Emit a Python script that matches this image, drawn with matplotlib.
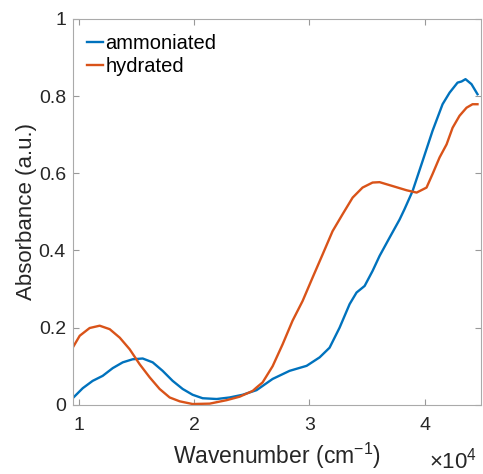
"""Absorbance spectra, ammoniated vs hydrated."""
import matplotlib.pyplot as plt

plt.rcParams['font.family'] = ['Liberation Sans', 'DejaVu Sans']
plt.rcParams['mathtext.fontset'] = 'custom'
plt.rcParams['mathtext.rm'] = 'Liberation Sans'
plt.rcParams['mathtext.it'] = 'Liberation Sans'

# wavenumber (cm^-1) and absorbance (a.u.)
wn_ammoniated = [9480, 10350, 11210, 12080, 12950, 13820, 14680, 15550,
                 16420, 17280, 18150, 19020, 19880, 20750, 21970, 23090,
                 24220, 25430, 26820, 28290, 29770, 30900, 31760, 32630,
                 33500, 34100, 34800, 35490, 36100, 36960, 37830, 38260,
                 38960, 39830, 40690, 41560, 42170, 42860, 43210, 43550,
                 44070, 44590]
abs_ammoniated = [0.017, 0.043, 0.062, 0.075, 0.095, 0.11, 0.118, 0.12,
                  0.11, 0.088, 0.062, 0.041, 0.026, 0.017, 0.015, 0.019,
                  0.026, 0.038, 0.067, 0.088, 0.101, 0.123, 0.148, 0.2,
                  0.261, 0.291, 0.308, 0.347, 0.386, 0.433, 0.48, 0.507,
                  0.554, 0.632, 0.71, 0.779, 0.809, 0.835, 0.838, 0.844,
                  0.831, 0.805]

wn_hydrated = [9480, 10090, 10950, 11820, 12690, 13560, 14420, 15290,
               16160, 17020, 17890, 18760, 19880, 21360, 22830, 23960,
               25090, 25430, 25950, 26820, 27690, 28550, 29420, 30290,
               31160, 32020, 32890, 33760, 34620, 35490, 36100, 37220,
               38440, 39310, 40170, 40690, 41300, 41910, 42430, 43030,
               43640, 44160, 44590]
abs_hydrated = [0.148, 0.179, 0.199, 0.205, 0.196, 0.174, 0.144, 0.105,
                0.071, 0.041, 0.019, 0.009, 0.002, 0.003, 0.012, 0.021,
                0.036, 0.045, 0.058, 0.1, 0.157, 0.218, 0.269, 0.33,
                0.39, 0.45, 0.494, 0.537, 0.563, 0.576, 0.577, 0.567,
                0.556, 0.55, 0.563, 0.598, 0.641, 0.675, 0.718, 0.749,
                0.77, 0.779, 0.779]

fig = plt.figure(figsize=(4.83, 4.74), dpi=100)
ax = fig.add_axes([0.151, 0.146, 0.845, 0.814])

ax.plot(wn_ammoniated, abs_ammoniated, color='#0072BD', lw=1.7,
        label='ammoniated')
ax.plot(wn_hydrated, abs_hydrated, color='#D95319', lw=1.7,
        label='hydrated')

ax.set_xlim(9500, 44900)
ax.set_ylim(0, 1)
ax.set_xticks([10000, 20000, 30000, 40000])
ax.set_xticklabels(['1', '2', '3', '4'])
ax.set_yticks([0, 0.2, 0.4, 0.6, 0.8, 1])
ax.set_yticklabels(['0', '0.2', '0.4', '0.6', '0.8', '1'])
ax.tick_params(direction='in', top=True, right=True, length=4, width=0.8,
               labelsize=14, colors='#999999', labelcolor='#262626')
ax.tick_params(axis='x', pad=9)
ax.tick_params(axis='y', pad=5)
for s in ax.spines.values():
    s.set_color('#aaaaaa')
    s.set_linewidth(0.8)

ax.set_xlabel('Wavenumber (cm$^{-1}$)', fontsize=16.5, color='#262626',
              labelpad=5)
ax.set_ylabel('Absorbance (a.u.)', fontsize=16, color='#262626', labelpad=1)
fig.text(0.888, 0.012, r'$\times10^{4}$', fontsize=16, color='#262626')

ax.legend(loc='upper left', frameon=False, fontsize=14.5, handlelength=0.8,
          handletextpad=0.1, labelspacing=0.2, borderaxespad=0.3,
          bbox_to_anchor=(0.0, 0.998))

plt.savefig('out.png', dpi=100)
